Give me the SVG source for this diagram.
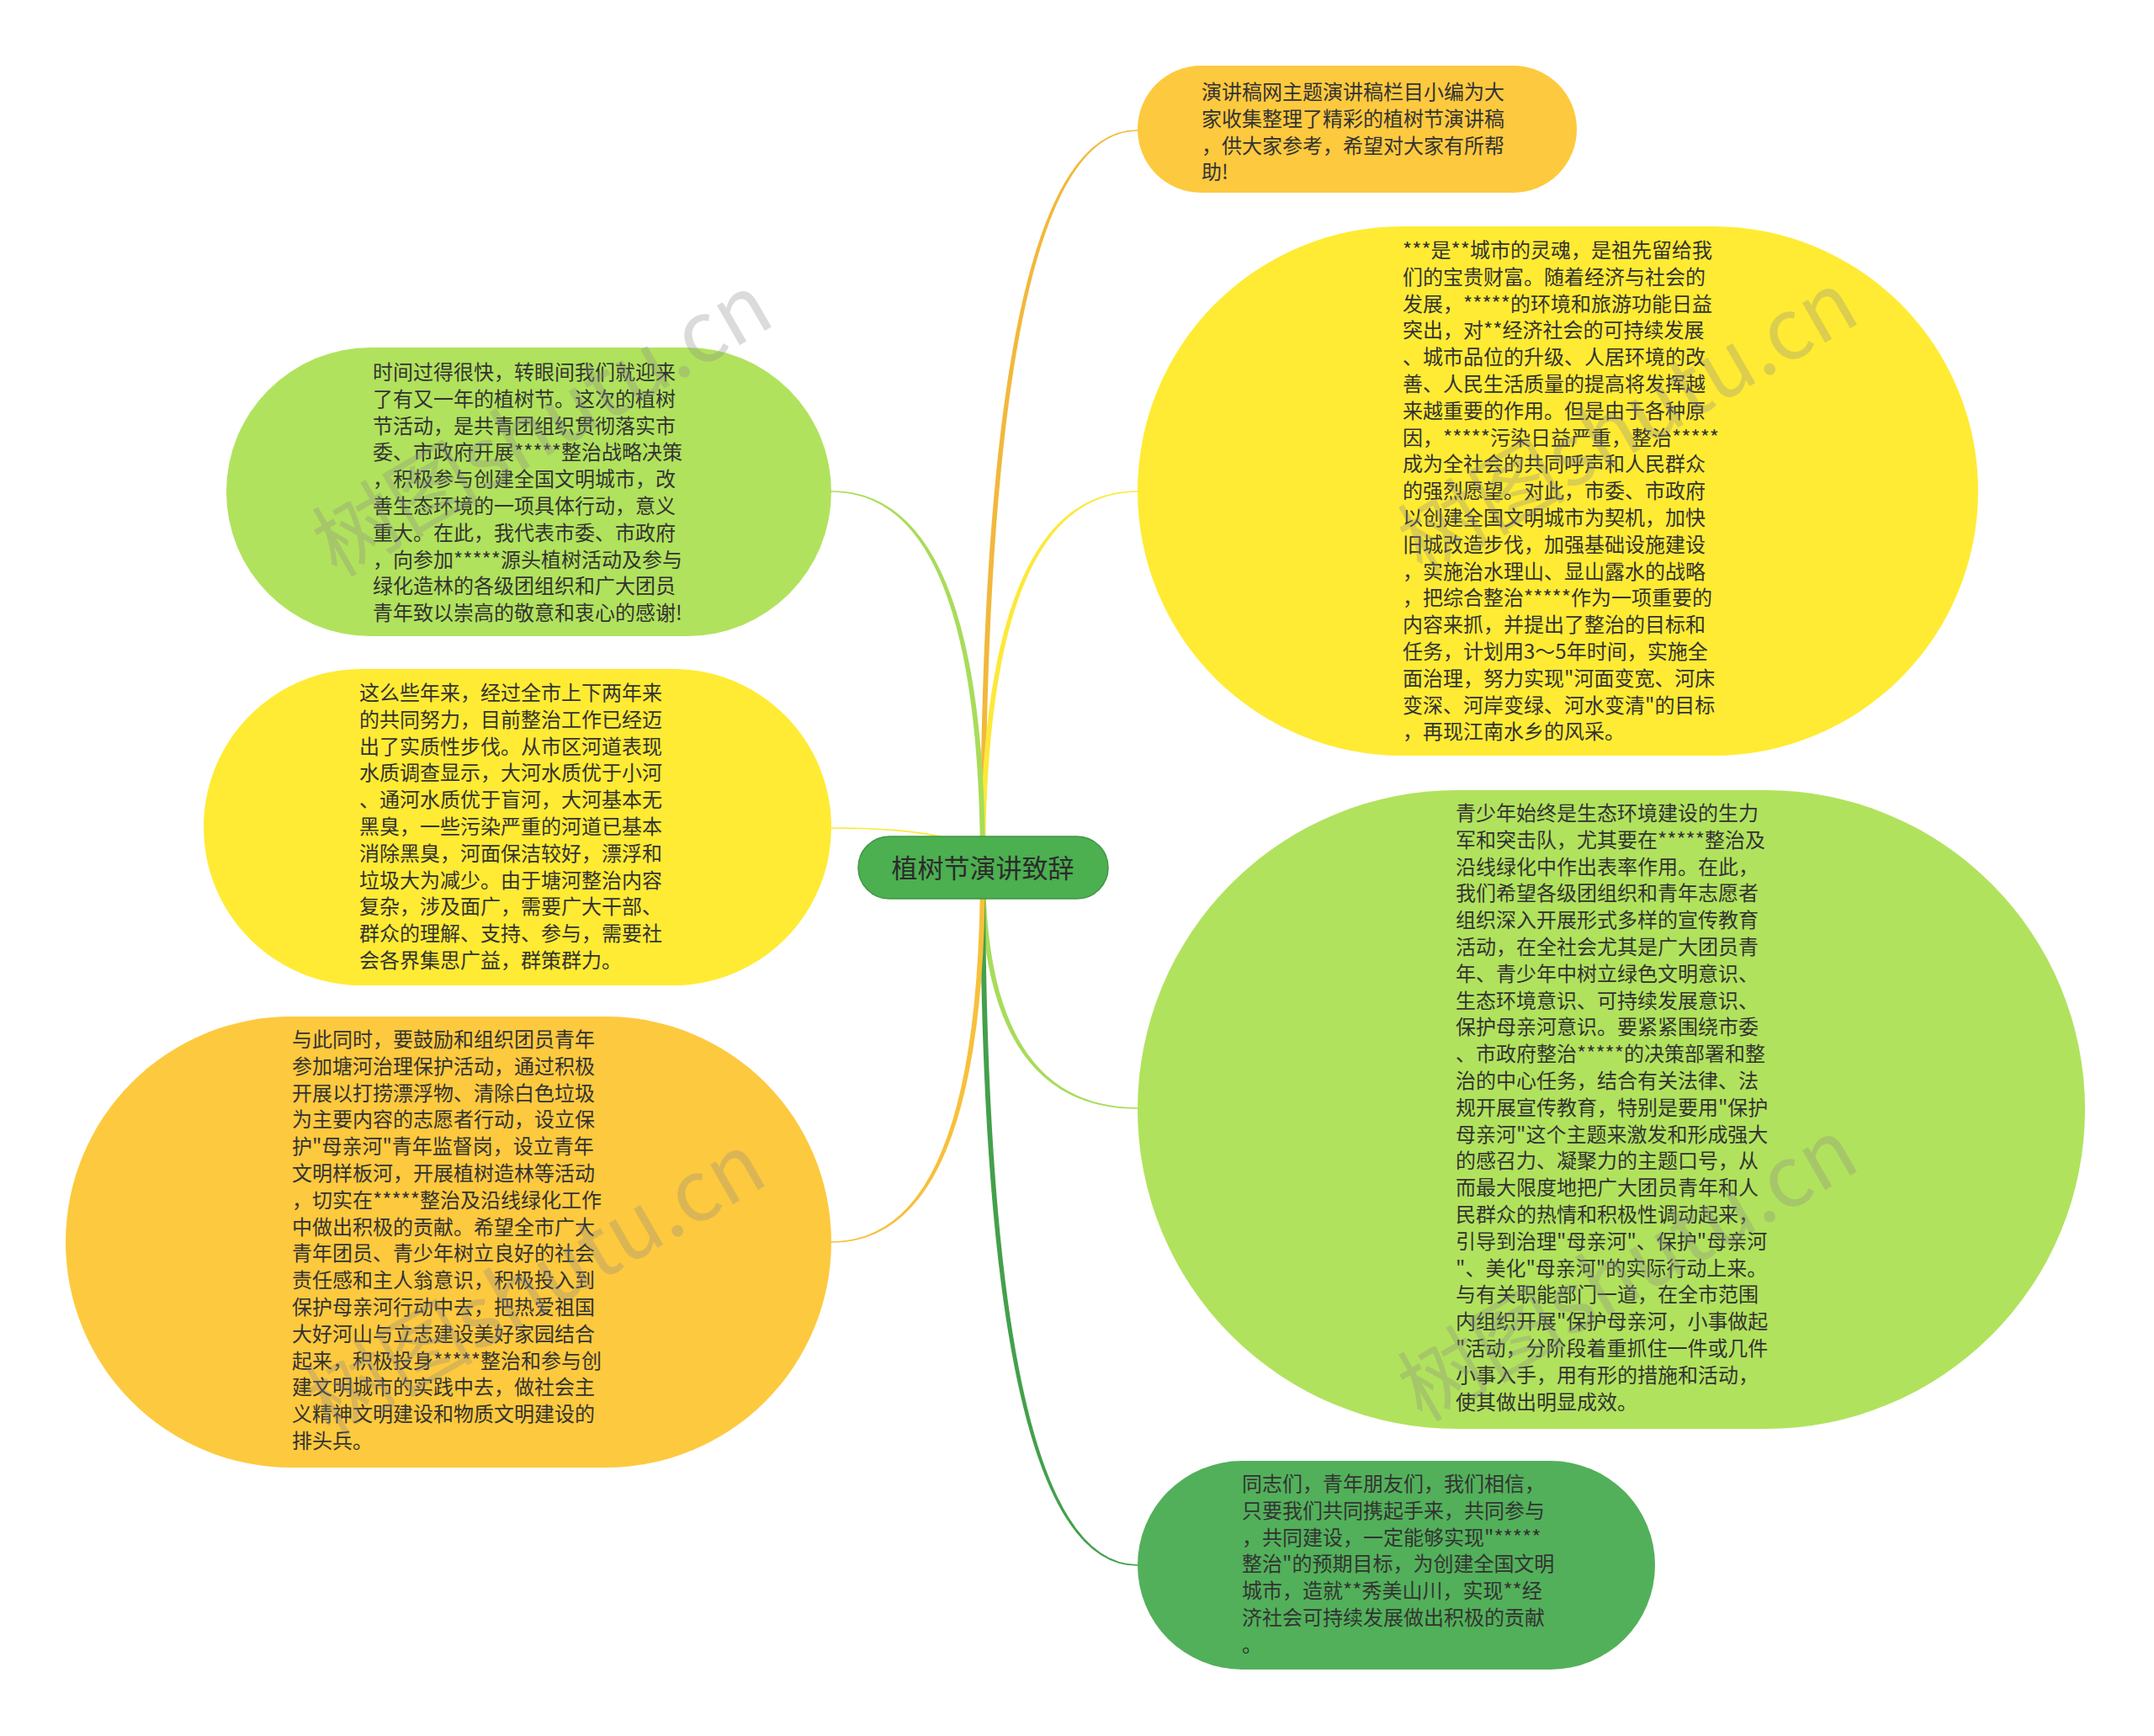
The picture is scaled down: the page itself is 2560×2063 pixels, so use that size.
<svg xmlns="http://www.w3.org/2000/svg" width="2560" height="2063" viewBox="0 0 2560 2063">
<style>
.t{font-family:"Noto Sans CJK SC","Liberation Sans",sans-serif;font-size:24px;fill:#333333}
.root{font-family:"Noto Sans CJK SC","Liberation Sans",sans-serif;font-size:31px;fill:#2b2b2b}
.wm{font-family:"Noto Sans CJK SC","Liberation Sans",sans-serif;font-size:100px;fill:#8a8a8a;opacity:0.3}
.orange{fill:#fdc93e}
.yellow{fill:#ffeb33}
.lgreen{fill:#b1e25d}
.dgreen{fill:#52b05a}
</style>
<rect x="0" y="0" width="2560" height="2063" fill="#ffffff"/>
<g id="connectors">
<path d="M 1165 1031 Q 1165 154.2 1352 154.2 L 1352 155.8 Q 1171 155.8 1171 1031 Z" fill="#f2b83c"/>
<path d="M 1165 1031 Q 1165 583.2 1352 583.2 L 1352 584.8 Q 1171 584.8 1171 1031 Z" fill="#fde93a"/>
<path d="M 1165 1031 Q 1165 1317.8 1352 1317.8 L 1352 1316.2 Q 1171 1316.2 1171 1031 Z" fill="#a8dc5a"/>
<path d="M 1165 1031 Q 1165 1860.8 1352 1860.8 L 1352 1859.2 Q 1171 1859.2 1171 1031 Z" fill="#43a04b"/>
<path d="M 1165 1031 Q 1165 584.8 988 584.8 L 988 583.2 Q 1171 583.2 1171 1031 Z" fill="#a8dc5a"/>
<path d="M 1165 1031 Q 1165 984.8 988 984.8 L 988 983.2 Q 1171 983.2 1171 1031 Z" fill="#fde93a"/>
<path d="M 1165 1031 Q 1165 1475.2 988 1475.2 L 988 1476.8 Q 1171 1476.8 1171 1031 Z" fill="#f7c03c"/>
</g>
<g id="root">
<rect x="1020" y="994" width="297" height="74" rx="37" ry="37" fill="#4caf50" stroke="#3f9744" stroke-width="1.5"/>
<text class="root" x="1168" y="1043" text-anchor="middle">植树节演讲致辞</text>
</g>
<g id="node1">
<rect x="1352" y="78" width="522" height="151" rx="75.5" ry="75.5" class="orange"/>
<text class="t" x="1428" y="118"><tspan x="1428">演讲稿网主题演讲稿栏目小编为大</tspan><tspan x="1428" dy="31.8">家收集整理了精彩的植树节演讲稿</tspan><tspan x="1428" dy="31.8">，供大家参考，希望对大家有所帮</tspan><tspan x="1428" dy="31.8">助!</tspan></text>
</g>
<g id="node2">
<rect x="1352" y="269" width="999" height="629" rx="314.5" ry="314.5" class="yellow"/>
<text class="t" x="1667" y="306"><tspan x="1667">***是**城市的灵魂，是祖先留给我</tspan><tspan x="1667" dy="31.8">们的宝贵财富。随着经济与社会的</tspan><tspan x="1667" dy="31.8">发展，*****的环境和旅游功能日益</tspan><tspan x="1667" dy="31.8">突出，对**经济社会的可持续发展</tspan><tspan x="1667" dy="31.8">、城市品位的升级、人居环境的改</tspan><tspan x="1667" dy="31.8">善、人民生活质量的提高将发挥越</tspan><tspan x="1667" dy="31.8">来越重要的作用。但是由于各种原</tspan><tspan x="1667" dy="31.8">因，*****污染日益严重，整治*****</tspan><tspan x="1667" dy="31.8">成为全社会的共同呼声和人民群众</tspan><tspan x="1667" dy="31.8">的强烈愿望。对此，市委、市政府</tspan><tspan x="1667" dy="31.8">以创建全国文明城市为契机，加快</tspan><tspan x="1667" dy="31.8">旧城改造步伐，加强基础设施建设</tspan><tspan x="1667" dy="31.8">，实施治水理山、显山露水的战略</tspan><tspan x="1667" dy="31.8">，把综合整治*****作为一项重要的</tspan><tspan x="1667" dy="31.8">内容来抓，并提出了整治的目标和</tspan><tspan x="1667" dy="31.8">任务，计划用3～5年时间，实施全</tspan><tspan x="1667" dy="31.8">面治理，努力实现"河面变宽、河床</tspan><tspan x="1667" dy="31.8">变深、河岸变绿、河水变清"的目标</tspan><tspan x="1667" dy="31.8">，再现江南水乡的风采。</tspan></text>
</g>
<g id="node3">
<rect x="1352" y="939" width="1126" height="759" rx="379.5" ry="379.5" class="lgreen"/>
<text class="t" x="1730" y="975"><tspan x="1730">青少年始终是生态环境建设的生力</tspan><tspan x="1730" dy="31.8">军和突击队，尤其要在*****整治及</tspan><tspan x="1730" dy="31.8">沿线绿化中作出表率作用。在此，</tspan><tspan x="1730" dy="31.8">我们希望各级团组织和青年志愿者</tspan><tspan x="1730" dy="31.8">组织深入开展形式多样的宣传教育</tspan><tspan x="1730" dy="31.8">活动，在全社会尤其是广大团员青</tspan><tspan x="1730" dy="31.8">年、青少年中树立绿色文明意识、</tspan><tspan x="1730" dy="31.8">生态环境意识、可持续发展意识、</tspan><tspan x="1730" dy="31.8">保护母亲河意识。要紧紧围绕市委</tspan><tspan x="1730" dy="31.8">、市政府整治*****的决策部署和整</tspan><tspan x="1730" dy="31.8">治的中心任务，结合有关法律、法</tspan><tspan x="1730" dy="31.8">规开展宣传教育，特别是要用"保护</tspan><tspan x="1730" dy="31.8">母亲河"这个主题来激发和形成强大</tspan><tspan x="1730" dy="31.8">的感召力、凝聚力的主题口号，从</tspan><tspan x="1730" dy="31.8">而最大限度地把广大团员青年和人</tspan><tspan x="1730" dy="31.8">民群众的热情和积极性调动起来，</tspan><tspan x="1730" dy="31.8">引导到治理"母亲河"、保护"母亲河</tspan><tspan x="1730" dy="31.8">"、美化"母亲河"的实际行动上来。</tspan><tspan x="1730" dy="31.8">与有关职能部门一道，在全市范围</tspan><tspan x="1730" dy="31.8">内组织开展"保护母亲河，小事做起</tspan><tspan x="1730" dy="31.8">"活动，分阶段着重抓住一件或几件</tspan><tspan x="1730" dy="31.8">小事入手，用有形的措施和活动，</tspan><tspan x="1730" dy="31.8">使其做出明显成效。</tspan></text>
</g>
<g id="node4">
<rect x="1352" y="1736" width="615" height="248" rx="124" ry="124" class="dgreen"/>
<text class="t" x="1476" y="1772"><tspan x="1476">同志们，青年朋友们，我们相信，</tspan><tspan x="1476" dy="31.8">只要我们共同携起手来，共同参与</tspan><tspan x="1476" dy="31.8">，共同建设，一定能够实现"*****</tspan><tspan x="1476" dy="31.8">整治"的预期目标，为创建全国文明</tspan><tspan x="1476" dy="31.8">城市，造就**秀美山川，实现**经</tspan><tspan x="1476" dy="31.8">济社会可持续发展做出积极的贡献</tspan><tspan x="1476" dy="31.8">。</tspan></text>
</g>
<g id="node5">
<rect x="269" y="413" width="719" height="343" rx="171.5" ry="171.5" class="lgreen"/>
<text class="t" x="443" y="451"><tspan x="443">时间过得很快，转眼间我们就迎来</tspan><tspan x="443" dy="31.8">了有又一年的植树节。这次的植树</tspan><tspan x="443" dy="31.8">节活动，是共青团组织贯彻落实市</tspan><tspan x="443" dy="31.8">委、市政府开展*****整治战略决策</tspan><tspan x="443" dy="31.8">，积极参与创建全国文明城市，改</tspan><tspan x="443" dy="31.8">善生态环境的一项具体行动，意义</tspan><tspan x="443" dy="31.8">重大。在此，我代表市委、市政府</tspan><tspan x="443" dy="31.8">，向参加*****源头植树活动及参与</tspan><tspan x="443" dy="31.8">绿化造林的各级团组织和广大团员</tspan><tspan x="443" dy="31.8">青年致以崇高的敬意和衷心的感谢!</tspan></text>
</g>
<g id="node6">
<rect x="242" y="795" width="746" height="376" rx="188" ry="188" class="yellow"/>
<text class="t" x="427" y="832"><tspan x="427">这么些年来，经过全市上下两年来</tspan><tspan x="427" dy="31.8">的共同努力，目前整治工作已经迈</tspan><tspan x="427" dy="31.8">出了实质性步伐。从市区河道表现</tspan><tspan x="427" dy="31.8">水质调查显示，大河水质优于小河</tspan><tspan x="427" dy="31.8">、通河水质优于盲河，大河基本无</tspan><tspan x="427" dy="31.8">黑臭，一些污染严重的河道已基本</tspan><tspan x="427" dy="31.8">消除黑臭，河面保洁较好，漂浮和</tspan><tspan x="427" dy="31.8">垃圾大为减少。由于塘河整治内容</tspan><tspan x="427" dy="31.8">复杂，涉及面广，需要广大干部、</tspan><tspan x="427" dy="31.8">群众的理解、支持、参与，需要社</tspan><tspan x="427" dy="31.8">会各界集思广益，群策群力。</tspan></text>
</g>
<g id="node7">
<rect x="78" y="1208" width="910" height="536" rx="268" ry="268" class="orange"/>
<text class="t" x="347" y="1244"><tspan x="347">与此同时，要鼓励和组织团员青年</tspan><tspan x="347" dy="31.8">参加塘河治理保护活动，通过积极</tspan><tspan x="347" dy="31.8">开展以打捞漂浮物、清除白色垃圾</tspan><tspan x="347" dy="31.8">为主要内容的志愿者行动，设立保</tspan><tspan x="347" dy="31.8">护"母亲河"青年监督岗，设立青年</tspan><tspan x="347" dy="31.8">文明样板河，开展植树造林等活动</tspan><tspan x="347" dy="31.8">，切实在*****整治及沿线绿化工作</tspan><tspan x="347" dy="31.8">中做出积极的贡献。希望全市广大</tspan><tspan x="347" dy="31.8">青年团员、青少年树立良好的社会</tspan><tspan x="347" dy="31.8">责任感和主人翁意识，积极投入到</tspan><tspan x="347" dy="31.8">保护母亲河行动中去，把热爱祖国</tspan><tspan x="347" dy="31.8">大好河山与立志建设美好家园结合</tspan><tspan x="347" dy="31.8">起来，积极投身*****整治和参与创</tspan><tspan x="347" dy="31.8">建文明城市的实践中去，做社会主</tspan><tspan x="347" dy="31.8">义精神文明建设和物质文明建设的</tspan><tspan x="347" dy="31.8">排头兵。</tspan></text>
</g>
<g id="watermarks">
<text class="wm" x="645" y="540" text-anchor="middle" transform="rotate(-30 645 506)">树图shutu.cn</text>
<text class="wm" x="1935" y="537" text-anchor="middle" transform="rotate(-30 1935 503)">树图shutu.cn</text>
<text class="wm" x="637" y="1561" text-anchor="middle" transform="rotate(-30 637 1527)">树图shutu.cn</text>
<text class="wm" x="1935" y="1544" text-anchor="middle" transform="rotate(-30 1935 1510)">树图shutu.cn</text>
</g>
</svg>
